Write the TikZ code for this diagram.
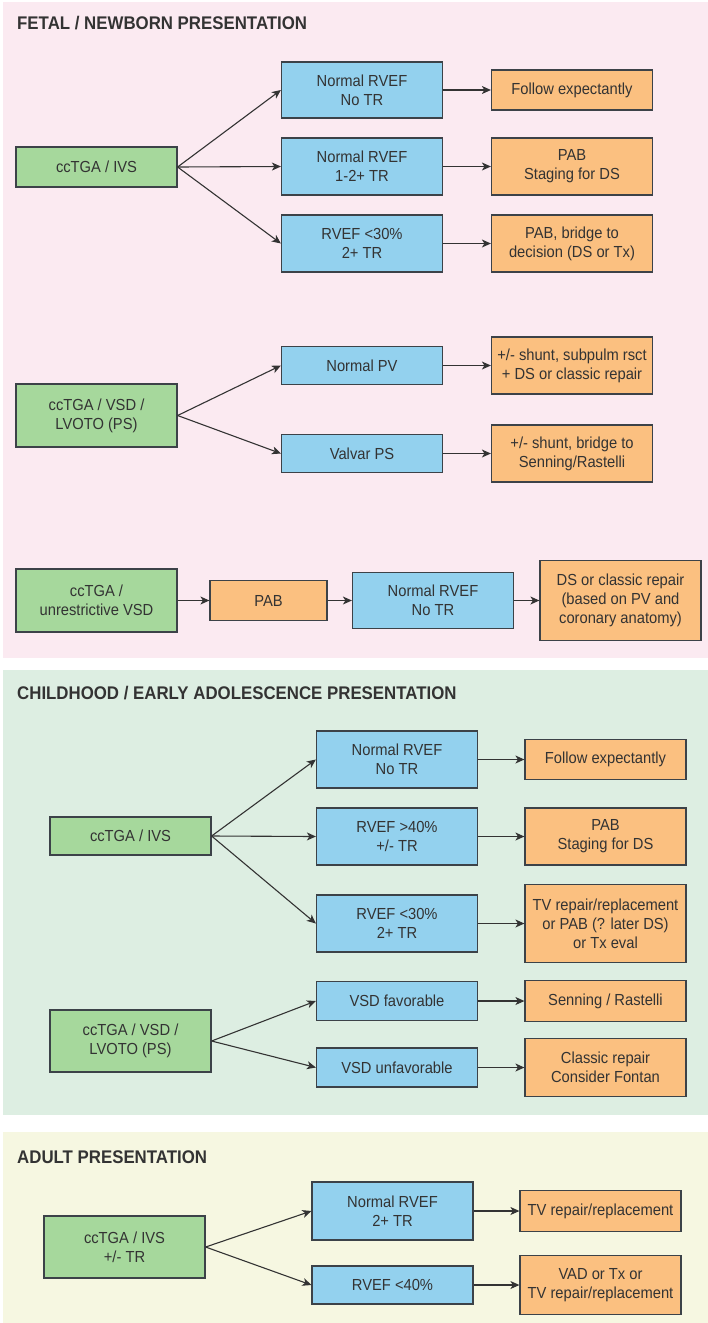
\documentclass[tikz,border=0pt]{standalone}
\usepackage{fontspec}
\setmainfont{Liberation Sans}[FakeStretch=0.92]
\usetikzlibrary{arrows.meta}
\definecolor{bgpink}{HTML}{FBEAF1}
\definecolor{bggreen}{HTML}{DDEEE2}
\definecolor{bgyellow}{HTML}{F6F7E1}
\definecolor{boxgreen}{HTML}{A6D89C}
\definecolor{boxblue}{HTML}{93D1EE}
\definecolor{boxorange}{HTML}{FBC080}
\definecolor{edge}{HTML}{3C4248}
\definecolor{ink}{HTML}{333333}
\begin{document}
\begin{tikzpicture}[x=1pt,y=-1pt,
  base/.style={draw=edge,line width=1.2pt,rectangle,inner sep=0pt,align=center,
    text=ink,font=\fontsize{16}{19}\selectfont,minimum width=161pt},
  gbox/.style={base,fill=boxgreen},
  bbox/.style={base,fill=boxblue},
  obox/.style={base,fill=boxorange},
  title/.style={anchor=base west,inner sep=0pt,text=ink,font=\fontsize{18.3}{20}\selectfont\bfseries},
  conn/.style={draw=ink,line width=1.1pt,-{Stealth[length=9pt,width=8pt,inset=2.5pt]}}
]
\useasboundingbox (0,0) rectangle (708,1323);
\fill[white] (0,0) rectangle (708,1323);
\fill[bgpink] (3,2) rectangle (708,658);
\fill[bggreen] (3,670) rectangle (708,1115);
\fill[bgyellow] (3,1132) rectangle (708,1323);

% ---------- Section 1 ----------
\node[title] (t1) at (17,29) {FETAL / NEWBORN PRESENTATION};
\node[gbox,minimum height=40pt] (g1) at (96.5,167) {ccTGA / IVS};
\node[bbox,minimum height=56pt] (b1) at (362,90) {Normal RVEF\\No TR};
\node[bbox,minimum height=57pt] (b2) at (362,166.5) {Normal RVEF\\1-2+ TR};
\node[bbox,minimum height=57pt] (b3) at (362,243.5) {RVEF <30\%\\2+ TR};
\node[obox,minimum height=40pt] (o1) at (572,90) {Follow expectantly};
\node[obox,minimum height=57pt] (o2) at (572,166.5) {PAB\\Staging for DS};
\node[obox,minimum height=57pt] (o3) at (572,243.5) {PAB, bridge to\\decision (DS or Tx)};
\draw[conn] (g1.east) -- (b1.west);
\draw[conn] (g1.east) -- (b2.west);
\draw[conn] (g1.east) -- (b3.west);
\draw[conn] (b1.east) -- (o1.west);
\draw[conn] (b2.east) -- (o2.west);
\draw[conn] (b3.east) -- (o3.west);

\node[gbox,minimum height=63pt] (g2) at (96.5,415.5) {ccTGA / VSD /\\LVOTO (PS)};
\node[bbox,minimum height=38pt] (b4) at (362,365.5) {Normal PV};
\node[bbox,minimum height=38pt] (b5) at (362,453.5) {Valvar PS};
\node[obox,minimum height=57pt] (o4) at (572,365.5) {+/- shunt, subpulm rsct\\+ DS or classic repair};
\node[obox,minimum height=57pt] (o5) at (572,453.5) {+/- shunt, bridge to\\Senning/Rastelli};
\draw[conn] (g2.east) -- (b4.west);
\draw[conn] (g2.east) -- (b5.west);
\draw[conn] (b4.east) -- (o4.west);
\draw[conn] (b5.east) -- (o5.west);

\node[gbox,minimum height=63pt] (g3) at (96.5,600.5) {ccTGA /\\unrestrictive VSD};
\node[obox,minimum height=40pt,minimum width=117pt] (o6) at (268.5,600.5) {PAB};
\node[bbox,minimum height=56pt] (b6) at (433,600.5) {Normal RVEF\\No TR};
\node[obox,minimum height=80pt] (o7) at (620.5,600.5) {DS or classic repair\\(based on PV and\\coronary anatomy)};
\draw[conn] (g3.east) -- (o6.west);
\draw[conn] (o6.east) -- (b6.west);
\draw[conn] (b6.east) -- (o7.west);

% ---------- Section 2 ----------
\node[title] (t2) at (17,699) {CHILDHOOD / EARLY ADOLESCENCE PRESENTATION};
\node[gbox,minimum height=38pt] (g4) at (130.5,836) {ccTGA / IVS};
\node[bbox,minimum height=57pt] (b7) at (397,759.5) {Normal RVEF\\No TR};
\node[bbox,minimum height=57pt] (b8) at (397,836.5) {RVEF >40\%\\+/- TR};
\node[bbox,minimum height=57pt] (b9) at (397,923.5) {RVEF <30\%\\2+ TR};
\node[obox,minimum height=40pt] (o8) at (605.5,759.5) {Follow expectantly};
\node[obox,minimum height=57pt] (o9) at (605.5,836.5) {PAB\\Staging for DS};
\node[obox,minimum height=78pt] (o10) at (605.5,923.5) {TV repair/replacement\\or PAB (? later DS)\\or Tx eval};
\draw[conn] (g4.east) -- (b7.west);
\draw[conn] (g4.east) -- (b8.west);
\draw[conn] (g4.east) -- (b9.west);
\draw[conn] (b7.east) -- (o8.west);
\draw[conn] (b8.east) -- (o9.west);
\draw[conn] (b9.east) -- (o10.west);

\node[gbox,minimum height=62pt] (g5) at (130.5,1041) {ccTGA / VSD /\\LVOTO (PS)};
\node[bbox,minimum height=39pt] (b10) at (397,1001) {VSD favorable};
\node[bbox,minimum height=39pt] (b11) at (397,1067.5) {VSD unfavorable};
\node[obox,minimum height=41pt] (o11) at (605.5,1001) {Senning / Rastelli};
\node[obox,minimum height=58pt] (o12) at (605.5,1067.5) {Classic repair\\Consider Fontan};
\draw[conn] (g5.east) -- (b10.west);
\draw[conn] (g5.east) -- (b11.west);
\draw[conn] (b10.east) -- (o11.west);
\draw[conn] (b11.east) -- (o12.west);

% ---------- Section 3 ----------
\node[title] (t3) at (17,1163) {ADULT PRESENTATION};
\node[gbox,minimum height=62pt] (g6) at (124.5,1247) {ccTGA / IVS\\+/- TR};
\node[bbox,minimum height=58pt] (b12) at (392.5,1211) {Normal RVEF\\2+ TR};
\node[bbox,minimum height=38pt] (b13) at (392.5,1285) {RVEF <40\%};
\node[obox,minimum height=41pt] (o13) at (600.5,1211) {TV repair/replacement};
\node[obox,minimum height=59pt] (o14) at (600.5,1285) {VAD or Tx or\\TV repair/replacement};
\draw[conn] (g6.east) -- (b12.west);
\draw[conn] (g6.east) -- (b13.west);
\draw[conn] (b12.east) -- (o13.west);
\draw[conn] (b13.east) -- (o14.west);
\end{tikzpicture}
\end{document}
